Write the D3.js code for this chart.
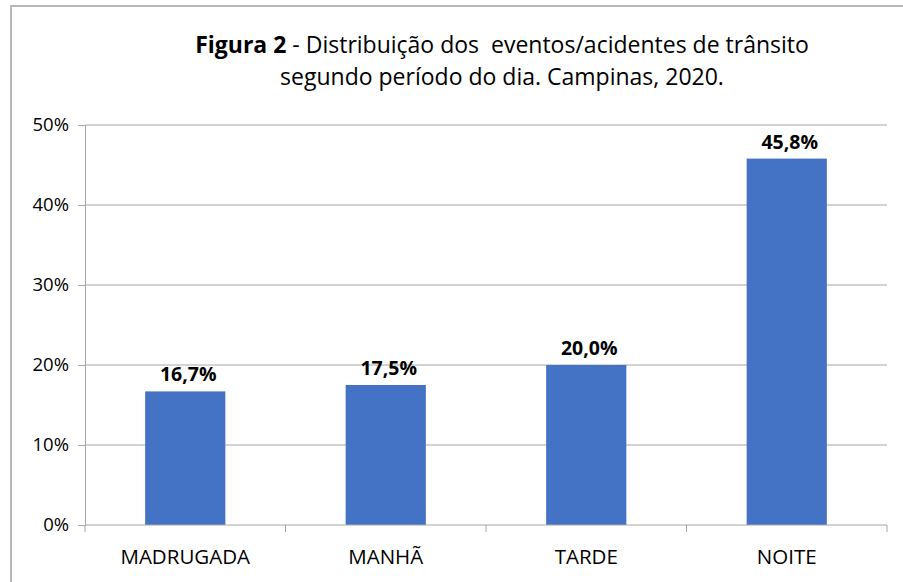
<!DOCTYPE html>
<html>
<head>
<meta charset="utf-8">
<script src="https://cdn.jsdelivr.net/npm/d3@7"></script>
<style>
  body { margin: 0; background: #fff; }
  svg { display: block; font-family: "Open Sans", "Noto Sans", sans-serif; }
</style>
</head>
<body>
<script>
// dados
const periodos = ["MADRUGADA", "MANHÃ", "TARDE", "NOITE"];
const percentuais = [16.7, 17.5, 20.0, 45.8];
const ticksY = [0, 10, 20, 30, 40, 50];

const W = 903, H = 582;
const margin = { top: 125, right: 16, bottom: 57, left: 85 };
const width = W - margin.left - margin.right;
const height = H - margin.top - margin.bottom;

const svg = d3.select("body").append("svg")
  .attr("width", W)
  .attr("height", H);

// moldura do gráfico
svg.append("rect")
  .attr("x", 11).attr("y", 6)
  .attr("width", W + 10).attr("height", H + 10)
  .attr("fill", "none")
  .attr("stroke", "#a0a0a0")
  .attr("stroke-width", 1.5);

// título
const titulo = svg.append("text")
  .attr("x", 502).attr("y", 53)
  .attr("text-anchor", "middle")
  .attr("font-size", 23)
  .attr("fill", "#000");
titulo.append("tspan").attr("font-weight", "bold").text("Figura 2");
titulo.append("tspan").text(" - Distribuição dos  eventos/acidentes de trânsito")
  .attr("xml:space", "preserve");
svg.append("text")
  .attr("x", 502).attr("y", 85)
  .attr("text-anchor", "middle")
  .attr("font-size", 23)
  .text("segundo período do dia. Campinas, 2020.");

const g = svg.append("g")
  .attr("transform", "translate(" + margin.left + "," + margin.top + ")");

const x = d3.scaleBand()
  .domain(periodos)
  .range([0, width])
  .paddingInner(0.6)
  .paddingOuter(0.3);

const xCat = d3.scaleBand().domain(periodos).range([0, width]);

const y = d3.scaleLinear()
  .domain([0, 50])
  .range([height, 0]);

// linhas de grade
g.append("g")
  .selectAll("line")
  .data(ticksY.slice(1))
  .join("line")
  .attr("x1", 0).attr("x2", width)
  .attr("y1", d => y(d)).attr("y2", d => y(d))
  .attr("stroke", "#a6a6a6")
  .attr("stroke-width", 1);

// eixo y
const eixoY = g.append("g")
  .call(d3.axisLeft(y).tickValues(ticksY).tickSize(7).tickPadding(9).tickFormat(d => d + "%"));
eixoY.select(".domain").attr("stroke", "#a6a6a6");
eixoY.selectAll(".tick line").attr("stroke", "#a6a6a6");
eixoY.selectAll("text").attr("font-size", 18.5).attr("fill", "#000")
  .attr("font-family", "'Open Sans', sans-serif");

// barras
g.selectAll(".barra")
  .data(periodos)
  .join("rect")
  .attr("class", "barra")
  .attr("x", d => x(d))
  .attr("y", (d, i) => y(percentuais[i]))
  .attr("width", x.bandwidth())
  .attr("height", (d, i) => height - y(percentuais[i]))
  .attr("fill", "#4472c4");

// eixo x com marcas entre categorias
const eixoX = g.append("g")
  .attr("transform", "translate(0," + height + ")");
eixoX.append("line")
  .attr("x1", 0).attr("x2", width)
  .attr("stroke", "#a6a6a6");
eixoX.selectAll(".marca")
  .data(d3.range(periodos.length + 1))
  .join("line")
  .attr("class", "marca")
  .attr("x1", i => i * xCat.step()).attr("x2", i => i * xCat.step())
  .attr("y1", 0).attr("y2", 7)
  .attr("stroke", "#a6a6a6");
eixoX.selectAll(".rotulo")
  .data(periodos)
  .join("text")
  .attr("class", "rotulo")
  .attr("x", d => xCat(d) + xCat.bandwidth() / 2)
  .attr("y", 39)
  .attr("text-anchor", "middle")
  .attr("font-size", 20.5)
  .text(d => d);

// rótulos de dados
g.selectAll(".valor")
  .data(periodos)
  .join("text")
  .attr("class", "valor")
  .attr("x", d => x(d) + x.bandwidth() / 2 + 3)
  .attr("y", (d, i) => y(percentuais[i]) - 10)
  .attr("text-anchor", "middle")
  .attr("font-size", 19.5)
  .attr("font-weight", "bold")
  .text((d, i) => d3.format(".1f")(percentuais[i]).replace(".", ",") + "%");
</script>
</body>
</html>
